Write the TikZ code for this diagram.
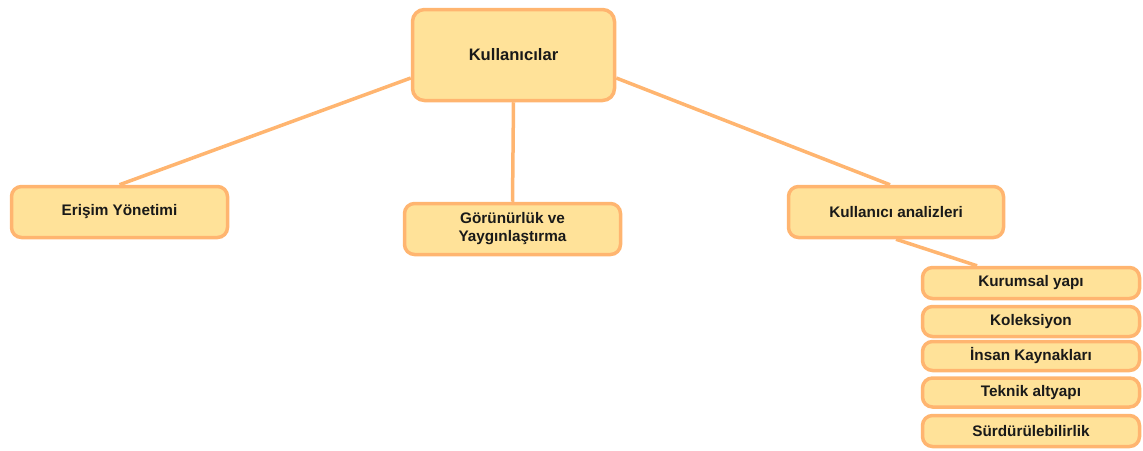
\documentclass[tikz,border=0pt]{standalone}
\usepackage{fontspec}
\setmainfont{Liberation Sans}
\usetikzlibrary{calc}
\pgfdeclarelayer{background}
\pgfsetlayers{background,main}
\definecolor{boxfill}{HTML}{FFE299}
\definecolor{boxline}{HTML}{FFB570}
\begin{document}
\begin{tikzpicture}[x=1pt,y=1pt,
  box/.style={draw=boxline, fill=boxfill, line width=3.5pt, rounded corners=10pt,
    inner sep=0pt, align=center, font=\bfseries\fontsize{15.3}{18}\selectfont, text=black!90},
  root/.style={box, rounded corners=12pt, font=\bfseries\fontsize{16.6}{19}\selectfont},
  link/.style={draw=boxline, line width=3.5pt}]
\useasboundingbox (0,0) rectangle (1143,-450);
\node[root, minimum width=202pt, minimum height=91pt] (k) at (513.5,-55) {Kullanıcılar};
\node[box, minimum width=216pt, minimum height=51pt] (e) at (119.5,-212) {Erişim Yönetimi};
\node[box, minimum width=216pt, minimum height=51pt] (g) at (512.5,-229) {Görünürlük ve\\Yaygınlaştırma};
\node[box, minimum width=215pt, minimum height=51pt] (a) at (896,-212) {Kullanıcı analizleri};
\node[box, minimum width=217pt, minimum height=31pt] (s1) at (1031,-283) {Kurumsal yapı};
\node[box, minimum width=217pt, minimum height=30pt] (s2) at (1031,-321.5) {Koleksiyon};
\node[box, minimum width=217pt, minimum height=29pt] (s3) at (1031,-356) {İnsan Kaynakları};
\node[box, minimum width=217pt, minimum height=29pt] (s4) at (1031,-392.5) {Teknik altyapı};
\node[box, minimum width=217pt, minimum height=31pt] (s5) at (1031,-431) {Sürdürülebilirlik};
\begin{pgfonlayer}{background}
\draw[link] ($(k.west)+(0,-23pt)$) -- (e.north);
\draw[link] (k.south) -- (g.north);
\draw[link] ($(k.east)+(0,-23pt)$) -- ($(a.north)+(-6pt,0)$);
\draw[link] (a.south) -- ($(s1.north)+(-54pt,0)$);
\end{pgfonlayer}
\end{tikzpicture}
\end{document}
